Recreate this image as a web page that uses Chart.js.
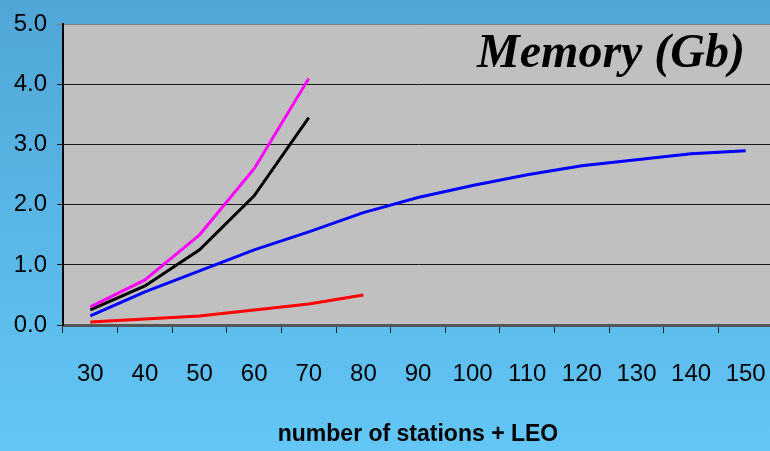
<!DOCTYPE html>
<html><head><meta charset="utf-8">
<script src="https://cdn.jsdelivr.net/npm/chart.js@4.4.1/dist/chart.umd.min.js"></script>
<style>html,body{margin:0;padding:0;overflow:hidden;width:770px;height:451px;background:#58b4e4;}canvas{display:block;}</style>
</head><body>
<canvas id="c" width="773" height="451"></canvas>
<script>
// x categories: number of stations + LEO
const stations = ['30','40','50','60','70','80','90','100','110','120','130','140','150'];
// memory in Gb per configuration
const magentaSeries = [0.30, 0.75, 1.50, 2.60, 4.10];
const blackSeries   = [0.25, 0.65, 1.25, 2.15, 3.45];
const blueSeries    = [0.15, 0.55, 0.90, 1.25, 1.55, 1.87, 2.12, 2.32, 2.50, 2.65, 2.75, 2.85, 2.90];
const redSeries     = [0.05, 0.10, 0.15, 0.25, 0.35, 0.50];
const yTicks = [0, 1, 2, 3, 4, 5];

const chartTitle = 'Memory (Gb)';
const xTitle = 'number of stations + LEO';

const labelFont = '"Liberation Sans Narrow", "Arial Narrow", "Liberation Sans", Arial, sans-serif';

const backdrop = {
  id: 'backdrop',
  beforeDraw(chart) {
    const {ctx, chartArea: a, width, height} = chart;
    ctx.save();
    const g = ctx.createLinearGradient(0, 0, 0, height);
    g.addColorStop(0, '#50a6d6');
    g.addColorStop(1, '#62c6f6');
    ctx.fillStyle = g;
    ctx.fillRect(0, 0, width, height);
    ctx.fillStyle = '#c0c0c0';
    ctx.fillRect(a.left, a.top, a.right - a.left, a.bottom - a.top);
    ctx.restore();
  }
};

const innerTitle = {
  id: 'innerTitle',
  beforeDatasetsDraw(chart) {
    const {ctx} = chart;
    ctx.save();
    ctx.font = 'italic bold 48px "Liberation Serif", "Times New Roman", serif';
    ctx.fillStyle = '#000';
    ctx.textAlign = 'right';
    ctx.textBaseline = 'alphabetic';
    ctx.fillText(chartTitle, 745, 67);
    ctx.restore();
  }
};

const line = (data, color) => ({
  data, borderColor: color, borderWidth: 3, pointRadius: 0, tension: 0, fill: false
});

new Chart(document.getElementById('c'), {
  type: 'line',
  data: {
    labels: stations,
    datasets: [
      line(magentaSeries, '#ff00ff'),
      line(blackSeries, '#000000'),
      line(blueSeries, '#0000ff'),
      line(redSeries, '#ff0000')
    ]
  },
  options: {
    responsive: false,
    animation: false,
    devicePixelRatio: 1,
    layout: {padding: {top: 22, right: 0, left: 0, bottom: 0}},
    plugins: {legend: {display: false}, tooltip: {enabled: false}},
    scales: {
      x: {
        offset: true,
        afterFit: s => { s.height = 126; s.paddingLeft = 0; s.paddingRight = 0; },
        grid: {offset: true, drawOnChartArea: false, drawTicks: true, tickLength: 8, color: '#202020', lineWidth: 1},
        border: {color: '#555555', width: 3},
        ticks: {
          padding: 27, maxRotation: 0, autoSkip: false, color: '#000',
          font: {family: labelFont, size: 24}
        },
        title: {
          display: true, text: xTitle, color: '#000',
          font: {family: labelFont, size: 23, weight: 'bold'},
          padding: {top: 0, bottom: 3}
        }
      },
      y: {
        min: 0, max: 5,
        afterFit: s => { s.width = 63; },
        afterBuildTicks: s => { s.ticks = yTicks.map(v => ({value: v})); },
        grid: {
          tickLength: 6, lineWidth: 1,
          color: c => c.tick && c.tick.value === 5 ? '#808080' : '#1a1a1a'
        },
        border: {color: '#000', width: 2},
        ticks: {
          padding: 10, color: '#000',
          callback: v => Number(v).toFixed(1),
          font: {family: labelFont, size: 24}
        }
      }
    }
  },
  plugins: [backdrop, innerTitle]
});
</script>
</body></html>
